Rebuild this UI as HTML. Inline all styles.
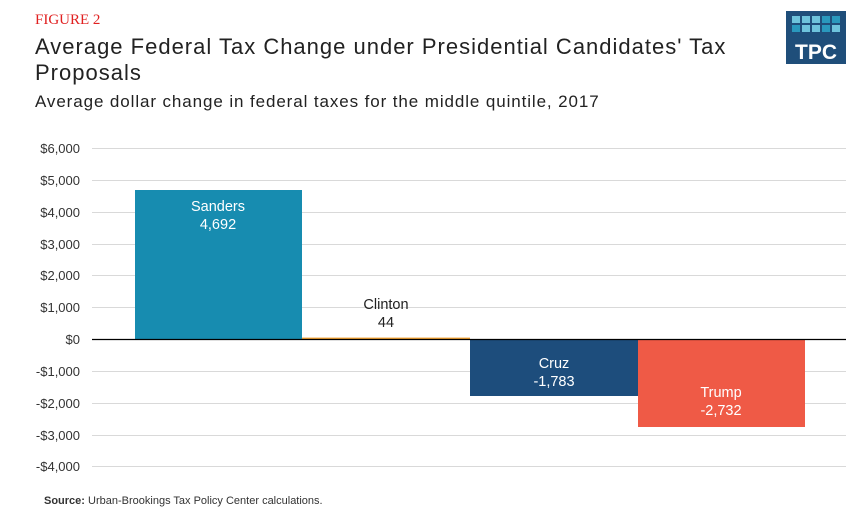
<!DOCTYPE html>
<html><head><style>
body{margin:0;width:863px;height:523px;background:#fff;font-family:"Liberation Sans",sans-serif;position:relative;overflow:hidden}
.t{position:absolute;white-space:nowrap}
</style></head><body>
<div class="t" style="left:35px;top:12px;font-family:'Liberation Serif',serif;font-size:15px;color:#e02020">FIGURE 2</div>
<div class="t" style="left:35px;top:34px;font-size:22px;letter-spacing:1px;color:#222;line-height:26px">Average Federal Tax Change under Presidential Candidates' Tax<br>Proposals</div>
<div class="t" style="left:35px;top:92px;font-size:17px;letter-spacing:0.9px;color:#222">Average dollar change in federal taxes for the middle quintile, 2017</div>
<svg width="863" height="523" style="position:absolute;left:0;top:0" font-family="Liberation Sans, sans-serif">
<rect x="786" y="11" width="60" height="53" fill="#1f4e7a"/>
<g fill="#6ec3dc">
<rect x="792" y="16" width="8" height="7"/><rect x="802" y="16" width="8" height="7"/><rect x="812" y="16" width="8" height="7"/><rect x="822" y="16" width="8" height="7" fill="#2a98bd"/><rect x="832" y="16" width="8" height="7" fill="#2a98bd"/>
<rect x="792" y="25" width="8" height="7" fill="#2a98bd"/><rect x="802" y="25" width="8" height="7"/><rect x="812" y="25" width="8" height="7"/><rect x="822" y="25" width="8" height="7" fill="#2a98bd"/><rect x="832" y="25" width="8" height="7"/>
</g>
<text x="816" y="59" fill="#fff" font-size="21" font-weight="bold" text-anchor="middle">TPC</text>
<g stroke="#d9d9d9" stroke-width="1">
<line x1="92" x2="846" y1="148.5" y2="148.5"/><line x1="92" x2="846" y1="180.5" y2="180.5"/><line x1="92" x2="846" y1="212.5" y2="212.5"/><line x1="92" x2="846" y1="244.5" y2="244.5"/><line x1="92" x2="846" y1="275.5" y2="275.5"/><line x1="92" x2="846" y1="307.5" y2="307.5"/><line x1="92" x2="846" y1="371.5" y2="371.5"/><line x1="92" x2="846" y1="403.5" y2="403.5"/><line x1="92" x2="846" y1="435.5" y2="435.5"/><line x1="92" x2="846" y1="466.5" y2="466.5"/>
</g>
<g font-size="13" fill="#333" text-anchor="end">
<text x="80" y="153">$6,000</text><text x="80" y="185">$5,000</text><text x="80" y="217">$4,000</text><text x="80" y="249">$3,000</text><text x="80" y="280">$2,000</text><text x="80" y="312">$1,000</text><text x="80" y="344">$0</text><text x="80" y="376">-$1,000</text><text x="80" y="408">-$2,000</text><text x="80" y="440">-$3,000</text><text x="80" y="471">-$4,000</text>
</g>
<rect x="135" y="190" width="167" height="149" fill="#178cb0"/>
<rect x="302" y="337.6" width="168" height="1.4" fill="#f0a030"/>
<rect x="470" y="339" width="168" height="57" fill="#1d4d7c"/>
<rect x="638" y="339" width="167" height="88" fill="#ef5a46"/>
<line x1="92" x2="846" y1="339.5" y2="339.5" stroke="#000" stroke-width="1.2"/>
<g font-size="14.5" text-anchor="middle">
<text x="218" y="211" fill="#fff">Sanders</text><text x="218" y="229" fill="#fff">4,692</text>
<text x="386" y="309" fill="#222">Clinton</text><text x="386" y="327" fill="#222">44</text>
<text x="554" y="368" fill="#fff">Cruz</text><text x="554" y="386" fill="#fff">-1,783</text>
<text x="721" y="397" fill="#fff">Trump</text><text x="721" y="415" fill="#fff">-2,732</text>
</g>
<text x="44" y="504" font-size="11" fill="#333"><tspan font-weight="bold">Source:</tspan> Urban-Brookings Tax Policy Center calculations.</text>
</svg>
</body></html>
